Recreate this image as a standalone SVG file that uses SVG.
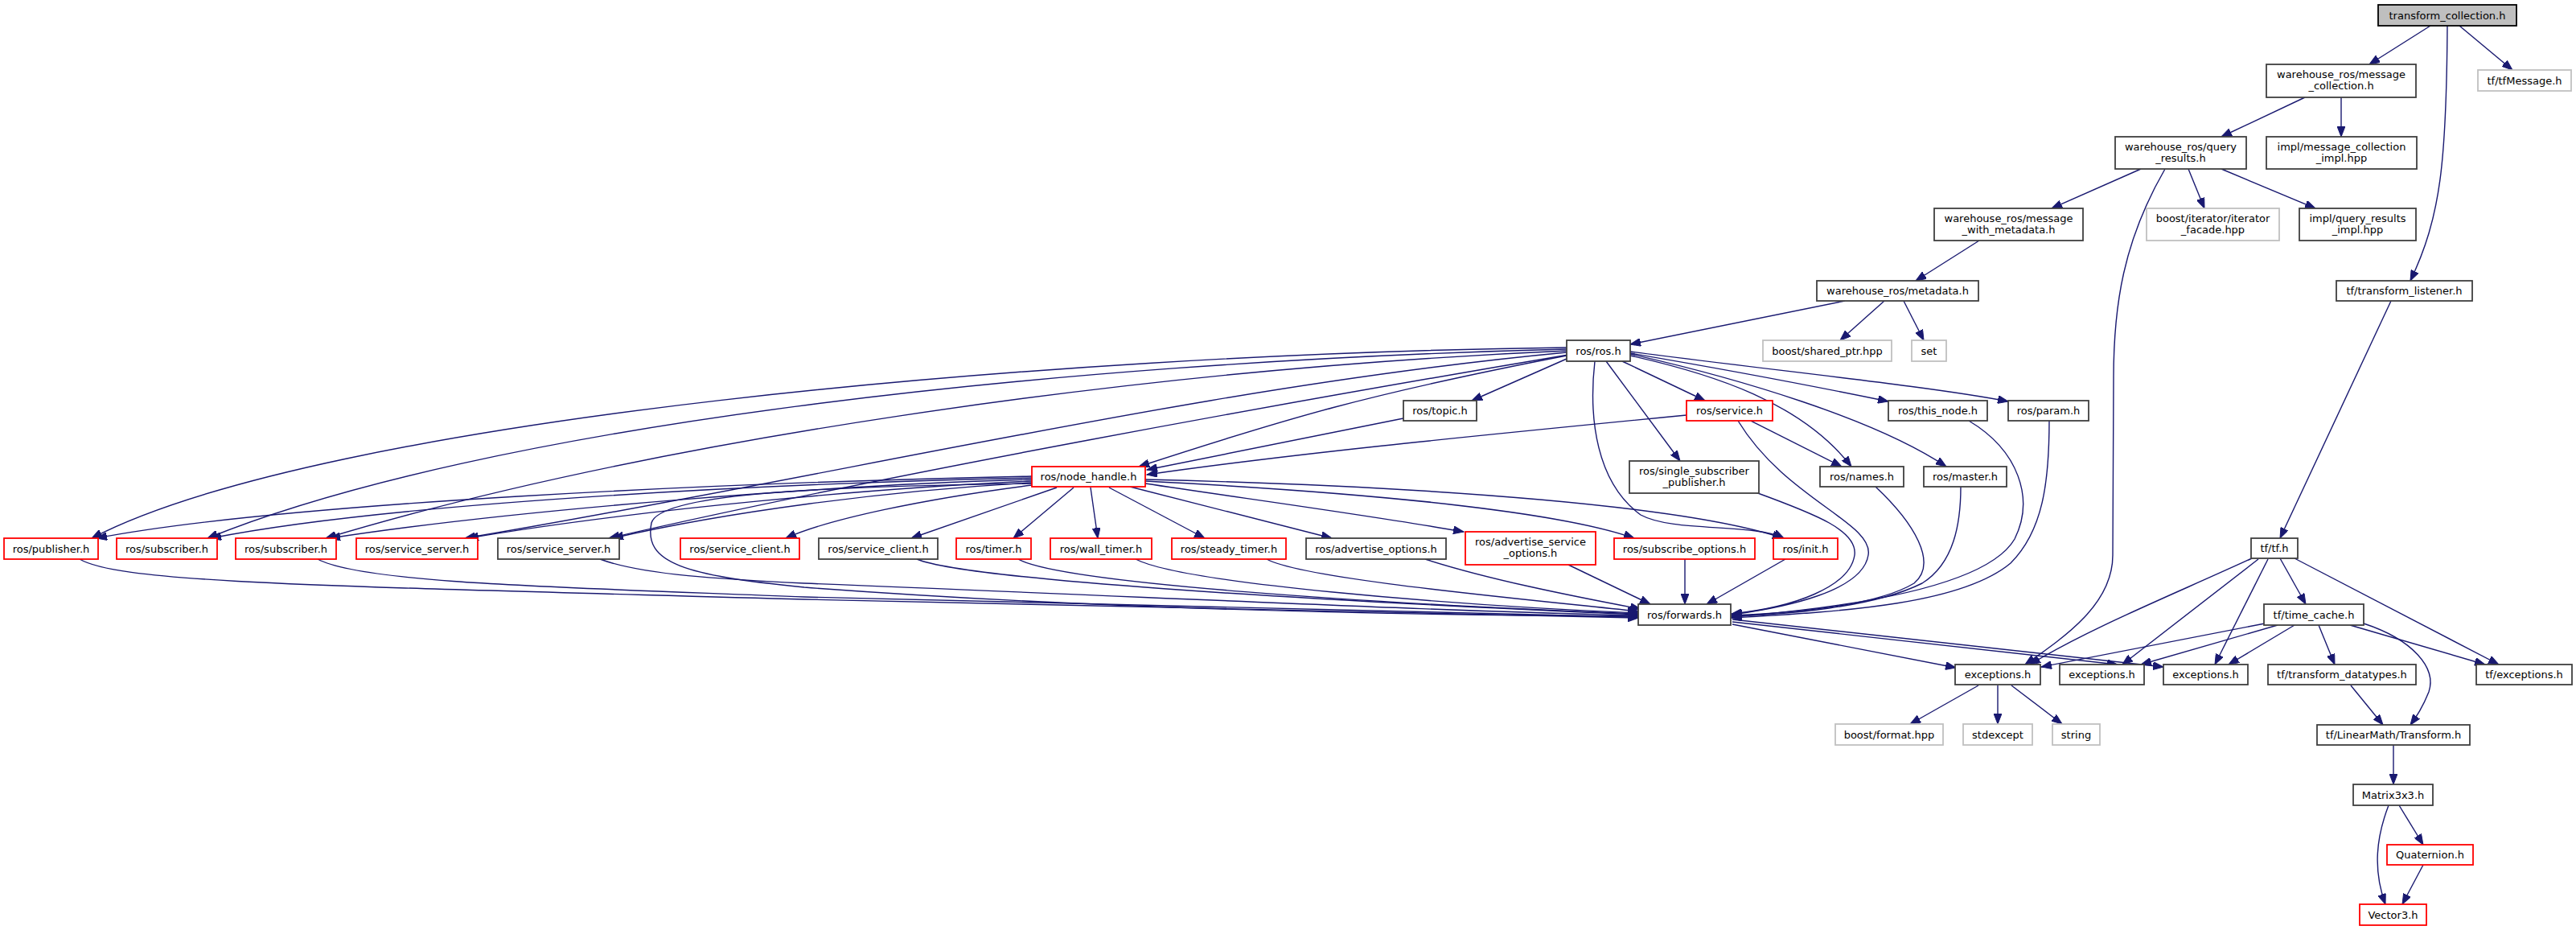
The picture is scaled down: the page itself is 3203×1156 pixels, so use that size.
<svg xmlns="http://www.w3.org/2000/svg" width="3203" height="1156" viewBox="0 0 3203 1156">
<style>
rect{fill:#fff;stroke:#404040;stroke-width:1.8}
.g rect{stroke:#c0c0c0}
.r rect{stroke:#ff0000}
.root rect{fill:#bfbfbf;stroke:#000}
text{font-family:"DejaVu Sans","Liberation Sans",sans-serif;font-size:13px;fill:#000;text-anchor:middle}
#edges path{fill:none;stroke:#191970;stroke-width:1.4;marker-end:url(#ah)}
</style>
<defs>
<marker id="ah" markerUnits="userSpaceOnUse" markerWidth="14" markerHeight="10" refX="13" refY="5" orient="auto">
<path d="M0,0 L13,5 L0,10 z" fill="#191970" stroke="#191970" stroke-width="1"/>
</marker>
</defs>
<rect x="0" y="0" width="3203" height="1156" style="fill:#fff;stroke:none"/>
<g id="edges">
<path d="M3022,32 L2946,80"/>
<path d="M3058,32 L3124,87"/>
<path d="M3043,32 C3042,200 3035,270 2997,349"/>
<path d="M2866,121 L2762,170"/>
<path d="M2911,121 L2911,170"/>
<path d="M2662,210 L2551,259"/>
<path d="M2721,210 L2741,259"/>
<path d="M2762,210 L2879,259"/>
<path d="M2692,210 C2640,300 2628,380 2628,470 L2627,690 C2627,750 2570,790 2518,826"/>
<path d="M2461,299 L2382,349"/>
<path d="M2294,374 L2027,428"/>
<path d="M2343,374 L2288,423"/>
<path d="M2367,374 L2392,423"/>
<path d="M2973,374 L2835,669"/>
<path d="M1948,446 L1830,498"/>
<path d="M1948,442 C1700,490 1600,520 1416,580"/>
<path d="M2017,449 L2120,498"/>
<path d="M1997,449 L2089,573"/>
<path d="M1983,449 C1975,520 1985,600 2040,640 C2080,662 2180,650 2218,669"/>
<path d="M2027,442 C2130,465 2240,500 2302,580"/>
<path d="M2027,440 C2160,470 2330,520 2420,580"/>
<path d="M2027,439 C2150,460 2280,485 2348,499"/>
<path d="M2027,437 C2200,460 2400,480 2497,499"/>
<path d="M1948,432 C1300,440 400,520 114,669"/>
<path d="M1948,434 C1300,450 600,530 258,669"/>
<path d="M1948,436 C1400,460 800,550 405,669"/>
<path d="M1948,438 C1500,480 1050,590 578,669"/>
<path d="M1950,441 C1600,500 1100,590 757,669"/>
<path d="M1745,520 L1426,584"/>
<path d="M2097,516 C1800,545 1600,565 1426,590"/>
<path d="M2177,523 L2290,580"/>
<path d="M1283,592 C900,600 350,625 120,669"/>
<path d="M1283,594 C1000,600 500,622 262,669"/>
<path d="M1283,596 C1050,602 650,632 410,669"/>
<path d="M1283,598 C1100,606 800,632 582,669"/>
<path d="M1283,600 C1100,610 900,637 762,669"/>
<path d="M1283,603 C1150,620 1030,645 977,669"/>
<path d="M1314,606 L1133,669"/>
<path d="M1335,606 L1260,669"/>
<path d="M1356,606 L1365,669"/>
<path d="M1379,606 L1498,669"/>
<path d="M1405,605 L1656,669"/>
<path d="M1424,601 C1550,620 1700,640 1820,661"/>
<path d="M1424,598 C1750,615 1950,640 2032,669"/>
<path d="M1424,596 C1800,605 2100,630 2217,669"/>
<path d="M1283,601 C1000,605 820,615 810,650 C800,700 850,715 1000,730 C1400,760 1800,765 2037,766"/>
<path d="M99,695 C150,725 400,728 1000,745 C1500,758 1800,765 2037,768"/>
<path d="M395,695 C450,725 700,730 1000,742 C1500,757 1800,763 2037,767"/>
<path d="M746,695 C800,715 900,720 1000,725 C1500,745 1800,760 2037,765"/>
<path d="M1140,695 C1200,720 1600,745 2037,764"/>
<path d="M1266,695 C1320,725 1700,750 2037,763"/>
<path d="M1412,695 C1470,725 1800,752 2037,762"/>
<path d="M1575,695 C1620,720 1900,745 2037,760"/>
<path d="M1772,695 C1850,720 1950,740 2040,757"/>
<path d="M1950,702 L2052,751"/>
<path d="M2095,695 L2095,751"/>
<path d="M2220,695 L2122,751"/>
<path d="M2183,612 C2260,640 2310,660 2306,690 C2300,730 2230,755 2153,763"/>
<path d="M2161,523 C2220,620 2330,650 2323,690 C2316,735 2220,755 2153,764"/>
<path d="M2332,605 C2380,650 2410,700 2380,725 C2330,755 2220,762 2153,765"/>
<path d="M2438,605 C2438,650 2430,700 2390,725 C2330,755 2220,764 2153,766"/>
<path d="M2448,523 C2510,560 2530,620 2505,670 C2470,730 2300,755 2153,767"/>
<path d="M2548,523 C2548,600 2540,660 2500,700 C2440,750 2300,760 2153,768"/>
<path d="M2154,776 L2432,830"/>
<path d="M2154,773 L2633,826"/>
<path d="M2154,770 L2690,829"/>
<path d="M2800,694 C2700,740 2600,780 2524,826"/>
<path d="M2808,695 L2639,826"/>
<path d="M2820,695 L2754,826"/>
<path d="M2835,694 L2867,751"/>
<path d="M2853,694 L3107,826"/>
<path d="M2816,775 L2538,829"/>
<path d="M2832,777 L2662,826"/>
<path d="M2853,777 L2771,826"/>
<path d="M2883,777 L2903,826"/>
<path d="M2939,775 C3000,795 3030,830 3020,860 C3012,880 3005,890 2997,901"/>
<path d="M2922,777 L3090,826"/>
<path d="M2923,852 L2963,901"/>
<path d="M2976,926 L2976,975"/>
<path d="M2983,1001 L3013,1050"/>
<path d="M2970,1001 C2955,1040 2950,1080 2966,1124"/>
<path d="M3013,1075 L2987,1124"/>
<path d="M2460,852 L2375,900"/>
<path d="M2484,852 L2484,900"/>
<path d="M2501,852 L2564,900"/>
</g>
<g id="n_transform_collection" class="root"><rect x="2957" y="6" width="172" height="26"/><text x="3043" y="23.5">transform_collection.h</text></g>
<g id="n_message_collection"><rect x="2818" y="80" width="186" height="41"/><text x="2911" y="97">warehouse_ros/message</text><text x="2911" y="111">_collection.h</text></g>
<g id="n_tfMessage" class="g"><rect x="3081" y="87" width="116" height="26"/><text x="3139" y="104.5">tf/tfMessage.h</text></g>
<g id="n_query_results"><rect x="2630" y="170" width="163" height="40"/><text x="2711.5" y="187">warehouse_ros/query</text><text x="2711.5" y="201">_results.h</text></g>
<g id="n_message_collection_impl"><rect x="2818" y="170" width="187" height="40"/><text x="2911.5" y="187">impl/message_collection</text><text x="2911.5" y="201">_impl.hpp</text></g>
<g id="n_message_with_metadata"><rect x="2405" y="259" width="185" height="40"/><text x="2497.5" y="276">warehouse_ros/message</text><text x="2497.5" y="290">_with_metadata.h</text></g>
<g id="n_iterator_facade" class="g"><rect x="2669" y="259" width="165" height="40"/><text x="2751.5" y="276">boost/iterator/iterator</text><text x="2751.5" y="290">_facade.hpp</text></g>
<g id="n_query_results_impl"><rect x="2859" y="259" width="145" height="40"/><text x="2931.5" y="276">impl/query_results</text><text x="2931.5" y="290">_impl.hpp</text></g>
<g id="n_metadata"><rect x="2259" y="349" width="201" height="25"/><text x="2359.5" y="366">warehouse_ros/metadata.h</text></g>
<g id="n_transform_listener"><rect x="2905" y="349" width="169" height="25"/><text x="2989.5" y="366">tf/transform_listener.h</text></g>
<g id="n_ros"><rect x="1948" y="423" width="79" height="26"/><text x="1987.5" y="440.5">ros/ros.h</text></g>
<g id="n_shared_ptr" class="g"><rect x="2192" y="423" width="160" height="26"/><text x="2272" y="440.5">boost/shared_ptr.hpp</text></g>
<g id="n_set" class="g"><rect x="2377" y="423" width="43" height="26"/><text x="2398.5" y="440.5">set</text></g>
<g id="n_topic"><rect x="1745" y="498" width="91" height="25"/><text x="1790.5" y="515">ros/topic.h</text></g>
<g id="n_service" class="r"><rect x="2097" y="498" width="107" height="25"/><text x="2150.5" y="515">ros/service.h</text></g>
<g id="n_this_node"><rect x="2348" y="498" width="123" height="25"/><text x="2409.5" y="515">ros/this_node.h</text></g>
<g id="n_param"><rect x="2497" y="498" width="100" height="25"/><text x="2547" y="515">ros/param.h</text></g>
<g id="n_node_handle" class="r"><rect x="1283" y="580" width="141" height="25"/><text x="1353.5" y="597">ros/node_handle.h</text></g>
<g id="n_single_subscriber_publisher"><rect x="2026" y="573" width="161" height="40"/><text x="2106.5" y="590">ros/single_subscriber</text><text x="2106.5" y="604">_publisher.h</text></g>
<g id="n_names"><rect x="2263" y="580" width="104" height="25"/><text x="2315" y="597">ros/names.h</text></g>
<g id="n_master"><rect x="2392" y="580" width="103" height="25"/><text x="2443.5" y="597">ros/master.h</text></g>
<g id="n_publisher" class="r"><rect x="5" y="669" width="117" height="26"/><text x="63.5" y="686.5">ros/publisher.h</text></g>
<g id="n_subscriber1" class="r"><rect x="145" y="669" width="125" height="26"/><text x="207.5" y="686.5">ros/subscriber.h</text></g>
<g id="n_subscriber2" class="r"><rect x="293" y="669" width="125" height="26"/><text x="355.5" y="686.5">ros/subscriber.h</text></g>
<g id="n_service_server1" class="r"><rect x="443" y="669" width="151" height="26"/><text x="518.5" y="686.5">ros/service_server.h</text></g>
<g id="n_service_server2"><rect x="619" y="669" width="151" height="26"/><text x="694.5" y="686.5">ros/service_server.h</text></g>
<g id="n_service_client1" class="r"><rect x="846" y="669" width="148" height="26"/><text x="920" y="686.5">ros/service_client.h</text></g>
<g id="n_service_client2"><rect x="1018" y="669" width="148" height="26"/><text x="1092" y="686.5">ros/service_client.h</text></g>
<g id="n_timer" class="r"><rect x="1189" y="669" width="93" height="26"/><text x="1235.5" y="686.5">ros/timer.h</text></g>
<g id="n_wall_timer" class="r"><rect x="1306" y="669" width="126" height="26"/><text x="1369" y="686.5">ros/wall_timer.h</text></g>
<g id="n_steady_timer" class="r"><rect x="1457" y="669" width="142" height="26"/><text x="1528" y="686.5">ros/steady_timer.h</text></g>
<g id="n_advertise_options"><rect x="1624" y="669" width="174" height="26"/><text x="1711" y="686.5">ros/advertise_options.h</text></g>
<g id="n_advertise_service_options" class="r"><rect x="1822" y="661" width="162" height="41"/><text x="1903" y="678">ros/advertise_service</text><text x="1903" y="692">_options.h</text></g>
<g id="n_subscribe_options" class="r"><rect x="2007" y="669" width="175" height="26"/><text x="2094.5" y="686.5">ros/subscribe_options.h</text></g>
<g id="n_init" class="r"><rect x="2205" y="669" width="80" height="26"/><text x="2245" y="686.5">ros/init.h</text></g>
<g id="n_tf"><rect x="2799" y="669" width="58" height="25"/><text x="2828" y="686">tf/tf.h</text></g>
<g id="n_forwards"><rect x="2037" y="751" width="115" height="26"/><text x="2094.5" y="768.5">ros/forwards.h</text></g>
<g id="n_time_cache"><rect x="2815" y="751" width="124" height="26"/><text x="2877" y="768.5">tf/time_cache.h</text></g>
<g id="n_exceptions1"><rect x="2431" y="826" width="106" height="25"/><text x="2484" y="843">exceptions.h</text></g>
<g id="n_exceptions2"><rect x="2561" y="826" width="105" height="25"/><text x="2613.5" y="843">exceptions.h</text></g>
<g id="n_exceptions3"><rect x="2690" y="826" width="105" height="25"/><text x="2742.5" y="843">exceptions.h</text></g>
<g id="n_transform_datatypes"><rect x="2820" y="826" width="184" height="25"/><text x="2912" y="843">tf/transform_datatypes.h</text></g>
<g id="n_tf_exceptions"><rect x="3079" y="826" width="119" height="25"/><text x="3138.5" y="843">tf/exceptions.h</text></g>
<g id="n_boost_format" class="g"><rect x="2282" y="900" width="134" height="26"/><text x="2349" y="917.5">boost/format.hpp</text></g>
<g id="n_stdexcept" class="g"><rect x="2441" y="900" width="86" height="26"/><text x="2484" y="917.5">stdexcept</text></g>
<g id="n_string" class="g"><rect x="2552" y="900" width="59" height="26"/><text x="2581.5" y="917.5">string</text></g>
<g id="n_Transform"><rect x="2881" y="901" width="190" height="25"/><text x="2976" y="918">tf/LinearMath/Transform.h</text></g>
<g id="n_Matrix3x3"><rect x="2926" y="975" width="99" height="26"/><text x="2975.5" y="992.5">Matrix3x3.h</text></g>
<g id="n_Quaternion" class="r"><rect x="2968" y="1050" width="107" height="25"/><text x="3021.5" y="1067">Quaternion.h</text></g>
<g id="n_Vector3" class="r"><rect x="2934" y="1124" width="83" height="26"/><text x="2975.5" y="1141.5">Vector3.h</text></g>
</svg>
